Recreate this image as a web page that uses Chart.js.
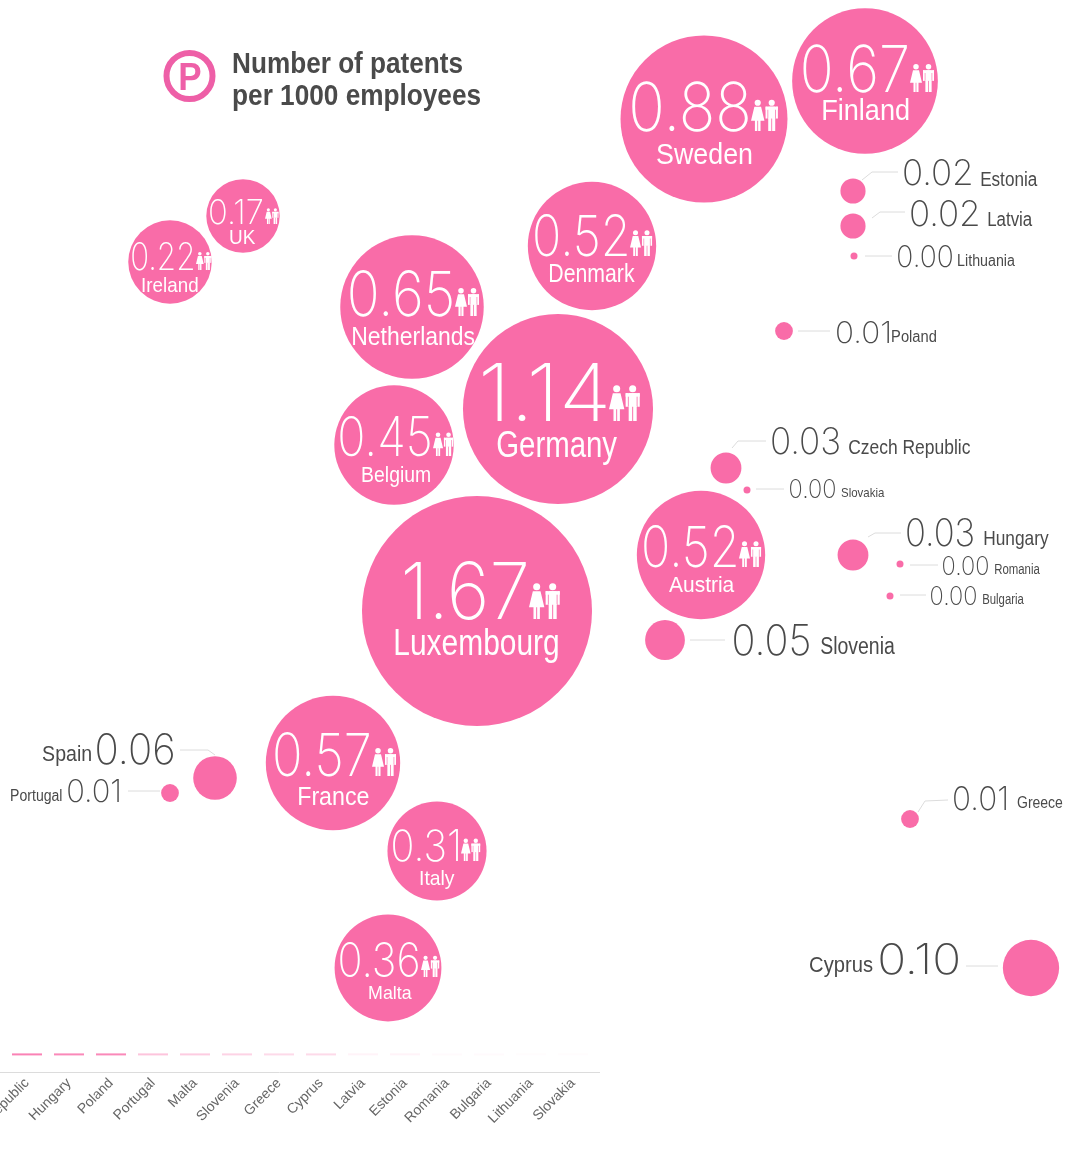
<!DOCTYPE html>
<html>
<head>
<meta charset="utf-8">
<title>Patents per 1000 employees</title>
<script src="https://cdn.jsdelivr.net/npm/chart.js@4"></script>
<style>
    html, body { margin: 0; padding: 0; background: #fff; overflow: hidden; }
    #wrap { position: relative; width: 1066px; height: 1158px; overflow: hidden; }
    #mapChart { position: absolute; left: 0; top: 0; }
    #stripChart { position: absolute; left: -36px; top: 1040px; }
</style>
</head>
<body>
<div id="wrap">
    <canvas id="mapChart" width="1066" height="1158"></canvas>
    <canvas id="stripChart" width="636" height="118"></canvas>
</div>
<script>
const countries = ['Luxembourg','Germany','Sweden','Finland','Denmark','Netherlands','Belgium','Austria','France','Italy','Malta','UK','Ireland','Spain','Portugal','Cyprus','Greece','Slovenia','Hungary','Romania','Bulgaria','Czech Republic','Slovakia','Poland','Estonia','Latvia','Lithuania'];
const patents = [1.67,1.14,0.88,0.67,0.52,0.65,0.45,0.52,0.57,0.31,0.36,0.17,0.22,0.06,0.01,0.10,0.01,0.05,0.03,0.00,0.00,0.03,0.00,0.01,0.02,0.02,0.00];
const posX = [477,558,704,865,592,412,394,701,333,437,388,243,170,215,170,1031,910,665,853,900,890,726,747,784,853,853,854];
const posY = [611,409,119,81,246,307,445,555,763,851,968,216,262,778,793,968,819,640,555,564,596,468,490,331,191,226,256];

const stripCountries = ['Ireland','Czech Republic','Hungary','Poland','Portugal','Malta','Slovenia','Greece','Cyprus','Latvia','Estonia','Romania','Bulgaria','Lithuania','Slovakia'];
const stripValues = [1.0,0.85,0.8,0.8,0.4,0.35,0.3,0.25,0.25,0.08,0.08,0.03,0.03,0.02,0.02];

const PINK = '#f96ca8';
const DARK = '#4a4a4a';
const AXIS = '#dcdcdc';
const VALUE_FONT = '200 100px Inter';

// label placement: v = [left, right, baseline, height], n = [left, right, baseline, font size], icon width
const inside = {
    'Luxembourg':  { v:[405,526,619,58], n:[395,558,655,36], icon:32 },
    'Germany':     { v:[483,606,421,58], n:[497,617,457,36], icon:32 },
    'Sweden':      { v:[632,748,131,50], n:[657,752,164,29], icon:28 },
    'Finland':     { v:[803,907,92,48],  n:[823,909,120,29], icon:25 },
    'Denmark':     { v:[535,627,256,42], n:[550,635,282,25], icon:23 },
    'Netherlands': { v:[350,452,316,46], n:[353,475,345,26], icon:25 },
    'Belgium':     { v:[340,430,456,40], n:[362,430,482,22], icon:21 },
    'Austria':     { v:[644,736,567,42], n:[669,735,592,22], icon:23 },
    'France':      { v:[275,369,776,44], n:[299,369,805,26], icon:25 },
    'Italy':       { v:[393,458,861,32], n:[420,455,885,21], icon:20 },
    'Malta':       { v:[340,418,977,35], n:[369,412,999,19], icon:19 },
    'UK':          { v:[210,262,224,25], n:[230,256,244,20], icon:14 },
    'Ireland':     { v:[132,193,270,28], n:[142,198,292,21], icon:16 }
};

// outside labels also carry the thin leader line
const outside = {
    'Estonia':        { v:[904,971,185,26], n:[981,1038,186,20], line:[[862,180],[872,172],[898,172]] },
    'Latvia':         { v:[911,978,226,26], n:[988,1033,226,20], line:[[872,218],[880,212],[905,212]] },
    'Lithuania':      { v:[898,952,267,22], n:[958,1015,266,16], line:[[865,256],[892,256]] },
    'Poland':         { v:[837,889,343,22], n:[892,936,342,16], line:[[798,331],[830,331]] },
    'Czech Republic': { v:[772,839,454,27], n:[849,970,454,21], line:[[732,448],[738,441],[766,441]] },
    'Slovakia':       { v:[790,835,498,19], n:[841,885,497,13], line:[[756,489],[784,489]] },
    'Hungary':        { v:[907,973,546,28], n:[984,1049,545,21], line:[[868,537],[875,533],[901,533]] },
    'Romania':        { v:[943,988,575,19], n:[995,1040,574,14], line:[[910,565],[938,565]] },
    'Bulgaria':       { v:[931,976,605,19], n:[983,1024,604,14], line:[[900,595],[926,595]] },
    'Slovenia':       { v:[734,809,655,31], n:[821,895,654,23], line:[[690,640],[725,640]] },
    'Greece':         { v:[954,1006,810,24], n:[1017,1063,808,16], line:[[918,812],[925,801],[948,800]] },
    'Cyprus':         { v:[880,958,974,31], n:[810,873,972,22], line:[[966,966],[998,966]] },
    'Spain':          { v:[97,173,764,31], n:[43,91,761,22], line:[[180,750],[208,750],[215,755]] },
    'Portugal':       { v:[68,119,802,23], n:[11,62,801,16], line:[[128,791],[160,791]] }
};

// stretch the text so it spans left..right, keeping it real text
function fitText(ctx, text, left, right, baseline, font, color, height)
{
    ctx.save();
    ctx.font = font;
    ctx.fillStyle = color;
    ctx.textBaseline = 'alphabetic';
    ctx.textAlign = 'left';
    const m = ctx.measureText(text);
    const w = m.actualBoundingBoxRight + m.actualBoundingBoxLeft;
    const sy = height ? height / m.actualBoundingBoxAscent : 1;
    ctx.translate(left, baseline);
    ctx.scale((right - left) / w, sy);
    ctx.fillText(text, m.actualBoundingBoxLeft, 0);
    ctx.restore();
}

function drawPeople(ctx, x, bottom, w)
{
    const h = w * 1.12;
    const unit = w / 2;
    const top = bottom - h;
    ctx.save();
    ctx.fillStyle = '#fff';
    // woman
    let cx = x + unit * 0.48;
    ctx.beginPath();
    ctx.arc(cx, top + unit * 0.22, unit * 0.22, 0, Math.PI * 2);
    ctx.fill();
    ctx.beginPath();
    ctx.moveTo(cx - unit * 0.24, top + unit * 0.5);
    ctx.lineTo(cx + unit * 0.24, top + unit * 0.5);
    ctx.lineTo(cx + unit * 0.48, top + unit * 1.5);
    ctx.lineTo(cx + unit * 0.2, top + unit * 1.5);
    ctx.lineTo(cx + unit * 0.2, bottom);
    ctx.lineTo(cx + unit * 0.03, bottom);
    ctx.lineTo(cx + unit * 0.03, top + unit * 1.5);
    ctx.lineTo(cx - unit * 0.03, top + unit * 1.5);
    ctx.lineTo(cx - unit * 0.03, bottom);
    ctx.lineTo(cx - unit * 0.2, bottom);
    ctx.lineTo(cx - unit * 0.2, top + unit * 1.5);
    ctx.lineTo(cx - unit * 0.48, top + unit * 1.5);
    ctx.closePath();
    ctx.fill();
    // man
    cx = x + unit * 1.48;
    ctx.beginPath();
    ctx.arc(cx, top + unit * 0.22, unit * 0.22, 0, Math.PI * 2);
    ctx.fill();
    ctx.fillRect(cx - unit * 0.44, top + unit * 0.5, unit * 0.88, unit * 0.22);
    ctx.fillRect(cx - unit * 0.44, top + unit * 0.5, unit * 0.14, unit * 0.85);
    ctx.fillRect(cx + unit * 0.3, top + unit * 0.5, unit * 0.14, unit * 0.85);
    ctx.fillRect(cx - unit * 0.25, top + unit * 0.5, unit * 0.5, unit * 0.85);
    ctx.fillRect(cx - unit * 0.25, top + unit * 1.3, unit * 0.22, h - unit * 1.3);
    ctx.fillRect(cx + unit * 0.03, top + unit * 1.3, unit * 0.22, h - unit * 1.3);
    ctx.restore();
}

const labelsPlugin = {
    id: 'countryLabels',
    afterDatasetsDraw(chart) {
        const ctx = chart.ctx;

        countries.forEach((name, i) => {
            const value = patents[i].toFixed(2);
            if (inside[name]) {
                const l = inside[name];
                fitText(ctx, value, l.v[0], l.v[1], l.v[2], VALUE_FONT, '#fff', l.v[3]);
                fitText(ctx, name, l.n[0], l.n[1], l.n[2], l.n[3] + 'px "Liberation Sans"', '#fff');
                drawPeople(ctx, l.v[1] + 3, l.v[2], l.icon);
            } else {
                const l = outside[name];
                ctx.save();
                ctx.strokeStyle = AXIS;
                ctx.lineWidth = 1;
                ctx.beginPath();
                l.line.forEach((p, k) => k ? ctx.lineTo(p[0], p[1]) : ctx.moveTo(p[0], p[1]));
                ctx.stroke();
                ctx.restore();
                fitText(ctx, value, l.v[0], l.v[1], l.v[2], VALUE_FONT, DARK, l.v[3]);
                fitText(ctx, name, l.n[0], l.n[1], l.n[2], l.n[3] + 'px "Liberation Sans"', DARK);
            }
        });

        // legend
        ctx.save();
        ctx.strokeStyle = '#ee5fa7';
        ctx.lineWidth = 6;
        ctx.beginPath();
        ctx.arc(189.5, 76, 23, 0, Math.PI * 2);
        ctx.stroke();
        ctx.restore();
        fitText(ctx, 'P', 180, 201, 90, 'bold 40px "Liberation Sans"', '#ee5fa7', 27);
        fitText(ctx, 'Number of patents', 233, 462, 73, 'bold 29px "Liberation Sans"', DARK);
        fitText(ctx, 'per 1000 employees', 233, 480, 105, 'bold 29px "Liberation Sans"', DARK);
    }
};

new Chart(document.getElementById('mapChart'), {
    type: 'bubble',
    data: {
        datasets: [{
            data: countries.map((c, i) => ({ x: posX[i], y: posY[i], r: Math.max(3.5, 89 * Math.sqrt(patents[i])) })),
            backgroundColor: PINK,
            borderWidth: 0,
            hoverBorderWidth: 0
        }]
    },
    options: {
        responsive: false,
        animation: false,
        layout: { padding: 0, autoPadding: false },
        clip: false,
        scales: {
            x: { type: 'linear', min: 0, max: 1066, display: false },
            y: { type: 'linear', min: 0, max: 1158, reverse: true, display: false }
        },
        plugins: { legend: { display: false }, tooltip: { enabled: false } }
    },
    plugins: [labelsPlugin]
});

// axis line carries on a little past the last band
const axisTail = {
    id: 'axisTail',
    afterDraw(chart) {
        const ctx = chart.ctx;
        const y = chart.chartArea.bottom;
        ctx.save();
        ctx.strokeStyle = AXIS;
        ctx.beginPath();
        ctx.moveTo(chart.chartArea.right, y + 0.5);
        ctx.lineTo(chart.width, y + 0.5);
        ctx.stroke();
        ctx.restore();
    }
};

new Chart(document.getElementById('stripChart'), {
    type: 'line',
    data: {
        labels: stripCountries,
        datasets: [{
            data: stripCountries.map(() => 0.55),
            showLine: false,
            pointStyle: 'line',
            pointRadius: 15,
            pointBorderWidth: 2,
            pointBorderColor: stripValues.map(v => 'rgba(249, 108, 168, ' + v + ')')
        }]
    },
    options: {
        responsive: false,
        animation: false,
        layout: { padding: { right: 6 }, autoPadding: false },
        scales: {
            x: {
                offset: true,
                grid: { display: false, drawTicks: false },
                border: { color: AXIS },
                afterFit: s => { s.height = 86; s.paddingLeft = 0; s.paddingRight = 0; },
                ticks: { autoSkip: false, minRotation: 45, maxRotation: 45, padding: 3, color: '#666', font: { family: 'Liberation Sans', size: 14 } }
            },
            y: { min: 0, max: 1, display: false }
        },
        plugins: { legend: { display: false }, tooltip: { enabled: false } }
    },
    plugins: [axisTail]
});
</script>
</body>
</html>
